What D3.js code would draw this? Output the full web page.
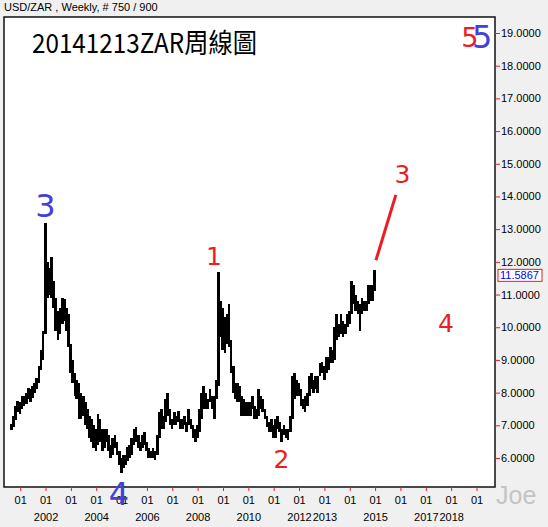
<!DOCTYPE html>
<html><head><meta charset="utf-8">
<script src="https://cdn.jsdelivr.net/npm/d3@7/dist/d3.min.js"></script>
<style>
html,body{margin:0;padding:0;background:#f0f0f0;}
svg{display:block;font-family:"Liberation Sans",Arial,sans-serif;}
</style></head>
<body>
<svg id="c" width="548" height="527"></svg>
<script>
// ---- data (monthly ranges), Aug 2000 .. Dec 2014
const firstMonth = "2000-08-01";
const lowVals = [
  6.85,6.95,7.15,7.4,7.35,                                  // 2000 Aug-Dec
  7.5,7.6,7.65,7.8,7.7,7.85,8.0,8.1,8.3,8.7,9.0,9.8,        // 2001
  10.9,11.0,10.9,10.6,9.9,9.6,9.8,10.1,10.2,9.9,9.4,8.6,    // 2002
  8.3,7.9,7.8,7.2,7.2,7.3,7.0,6.9,6.6,6.5,6.3,6.2,          // 2003
  6.4,6.5,6.2,6.3,6.5,6.2,6.0,6.1,6.3,6.1,5.8,5.55,         // 2004
  5.7,5.8,5.9,6.0,6.1,6.4,6.5,6.3,6.2,6.3,6.4,6.2,          // 2005
  6.0,6.0,6.0,5.95,6.1,6.6,6.9,6.9,7.1,7.3,7.0,6.9,         // 2006
  7.0,7.0,7.1,6.9,6.9,7.0,6.8,7.0,6.9,6.6,6.5,6.6,          // 2007
  6.8,7.2,7.5,7.5,7.5,7.7,7.5,7.2,7.8,8.2,9.7,9.3,          // 2008
  9.2,9.5,9.4,8.6,8.0,7.8,7.7,7.7,7.3,7.3,7.3,7.3,          // 2009
  7.3,7.5,7.2,7.2,7.3,7.5,7.4,7.2,6.95,6.8,6.8,6.6,         // 2010
  6.6,6.9,6.8,6.5,6.7,6.6,6.55,6.8,7.2,7.8,7.9,7.9,         // 2011
  7.6,7.5,7.4,7.6,7.9,8.1,8.0,8.1,8.0,8.5,8.6,8.4,          // 2012
  8.6,8.7,8.9,8.9,9.0,9.6,9.7,9.8,9.7,9.8,10.0,10.1,        // 2013
  10.4,10.7,10.5,10.4,9.9,10.4,10.5,10.5,10.7,10.8,10.8,11.1 // 2014
];
const highVals = [
  7.05,7.3,7.6,7.75,7.7,
  7.9,7.9,8.0,8.15,8.1,8.2,8.3,8.45,8.8,9.3,9.9,13.2,
  12.0,11.8,12.15,11.4,10.9,10.5,10.6,10.9,10.85,10.6,10.4,9.5,
  9.0,8.6,8.4,8.3,8.0,7.9,7.7,7.5,7.3,7.2,7.0,6.9,
  7.35,7.2,6.9,6.9,6.9,6.7,6.4,6.6,6.7,6.5,6.2,6.0,
  6.1,6.1,6.35,6.4,6.6,6.9,6.95,6.7,6.5,6.7,6.8,6.5,
  6.3,6.2,6.3,6.2,6.7,7.4,7.5,7.3,7.8,8.0,7.5,7.2,
  7.4,7.3,7.45,7.2,7.2,7.3,7.1,7.5,7.2,7.0,6.9,7.0,
  7.5,8.0,8.2,8.0,7.8,8.1,7.9,7.9,8.4,11.7,10.8,10.6,
  10.3,10.4,10.7,9.6,8.8,8.3,8.3,8.2,7.9,7.8,7.7,7.7,
  7.7,7.9,7.6,7.5,8.1,7.9,7.8,7.5,7.3,7.1,7.2,7.0,
  7.2,7.3,7.1,6.9,7.0,6.9,6.9,7.3,8.5,8.6,8.4,8.3,
  8.1,7.8,7.9,8.0,8.5,8.6,8.4,8.5,8.5,8.9,8.95,8.8,
  9.1,9.1,9.4,9.3,10.0,10.4,10.1,10.4,10.2,10.1,10.4,10.5,
  11.4,11.3,11.0,10.8,10.7,10.9,10.8,10.8,11.3,11.3,11.3,11.75
];
const lastPrice = 11.5867;
const yTickValues = [6,7,8,9,10,11,12,13,14,15,16,17,18,19];
const xTickYears = [2001,2002,2003,2004,2005,2006,2007,2008,2009,2010,2011,2012,2013,2014,2015,2016,2017,2018,2019];
const yearLabels = [2002,2004,2006,2008,2010,2012,2013,2015,2017,2018];
const waveLine = [{d:"2015-01-06", v:12.05},{d:"2015-10-20", v:14.05}];
const waveLabels = [
  {t:"3", d:"2001-12-24", v:13.37, c:"blue", s:32},
  {t:"4", d:"2004-11-18", v:4.56,  c:"blue", s:32},
  {t:"1", d:"2008-08-15", v:11.9,  c:"red",  s:25},
  {t:"2", d:"2011-04-15", v:5.69,  c:"red",  s:25},
  {t:"3", d:"2016-01-22", v:14.41, c:"red",  s:25},
  {t:"4", d:"2017-10-12", v:9.85,  c:"red",  s:25},
  {t:"5", d:"2018-09-20", v:18.57, c:"red",  s:27},
  {t:"5", d:"2019-03-15", v:18.54, c:"blue", s:32}
];
const colors = {red:"#ec1c24", blue:"#4040dc"};

// ---- chart
const svg = d3.select("#c");
const P = {l:4, t:17, r:495, b:487};
const parse = d3.timeParse("%Y-%m-%d");
const x = d3.scaleTime().domain([new Date(2001,0,1), new Date(2019,0,1)]).range([20.7, 477]);
const y = d3.scaleLinear().domain([6,19]).range([458,33]);

svg.append("text").attr("x",4).attr("y",11).attr("font-size",11).attr("fill","#000")
  .text("USD/ZAR , Weekly, # 750 / 900");

svg.append("rect").attr("x",P.l).attr("y",P.t).attr("width",P.r-P.l).attr("height",P.b-P.t)
  .attr("fill","#fff");

const start = parse(firstMonth);
const bars = lowVals.map((lo,i)=>({d:d3.timeMonth.offset(start,i), lo, hi:highVals[i]}));
const g = svg.append("g").attr("shape-rendering","crispEdges");
g.selectAll("rect").data(bars).join("rect")
  .attr("x", d=>x(d.d))
  .attr("width", d=>Math.max(1, x(d3.timeMonth.offset(d.d,1))-x(d.d)+0.6))
  .attr("y", d=>y(d.hi))
  .attr("height", d=>y(d.lo)-y(d.hi))
  .attr("fill","#000");

// wave line
svg.append("line")
  .attr("x1",x(parse(waveLine[0].d))).attr("y1",y(waveLine[0].v))
  .attr("x2",x(parse(waveLine[1].d))).attr("y2",y(waveLine[1].v))
  .attr("stroke",colors.red).attr("stroke-width",3);

// border
svg.append("rect").attr("x",P.l).attr("y",P.t).attr("width",P.r-P.l).attr("height",P.b-P.t)
  .attr("fill","none").attr("stroke","#000").attr("stroke-width",1.4);

// y axis
const ya = svg.append("g").attr("transform",`translate(${P.r},0)`)
  .call(d3.axisRight(y).tickValues(yTickValues).tickSize(5).tickPadding(1).tickFormat(d3.format(".4f")));
ya.select(".domain").remove();
ya.selectAll(".tick line").attr("stroke",colors.red);
ya.selectAll(".tick text").attr("font-size",11).attr("fill","#000")
  .attr("font-family","'Liberation Sans',Arial,sans-serif");

// last price box
const ly = y(lastPrice);
svg.append("rect").attr("x",498).attr("y",ly-6).attr("width",44).attr("height",12)
  .attr("fill","#fff").attr("stroke",colors.red).attr("stroke-width",1);
svg.append("text").attr("x",500).attr("y",ly+4).attr("font-size",11).attr("fill","#0000ff")
  .text(lastPrice.toFixed(4));

// x axis
const xa = svg.append("g");
xTickYears.forEach(yr=>{
  const xx = x(new Date(yr,0,1));
  xa.append("line").attr("x1",xx).attr("x2",xx).attr("y1",P.b).attr("y2",P.b+4)
    .attr("stroke",colors.red);
  xa.append("text").attr("x",xx).attr("y",504).attr("text-anchor","middle")
    .attr("font-size",11).text("01");
});
yearLabels.forEach(yr=>{
  xa.append("text").attr("x",x(new Date(yr,0,1))).attr("y",521).attr("text-anchor","middle")
    .attr("font-size",11).text(yr);
});

// title
svg.append("text").attr("x",32).attr("y",53)
  .attr("font-family","'Noto Sans CJK TC','Noto Sans',sans-serif")
  .attr("font-size",27).attr("textLength",225).attr("lengthAdjust","spacingAndGlyphs")
  .attr("fill","#000").text("20141213ZAR周線圖");

// wave labels
svg.selectAll("text.wl").data(waveLabels).join("text").attr("class","wl")
  .attr("x",d=>x(parse(d.d))).attr("y",d=>y(d.v)).attr("text-anchor","middle")
  .attr("font-family","'DejaVu Sans','Liberation Sans',sans-serif")
  .attr("font-size",d=>d.s).attr("fill",d=>colors[d.c]).text(d=>d.t);

// watermark
svg.append("text").attr("x",496).attr("y",504).attr("font-size",25).attr("fill","#c4c4c4")
  .attr("font-family","'Liberation Sans',Arial,sans-serif").text("Joe");
</script>
</body></html>
